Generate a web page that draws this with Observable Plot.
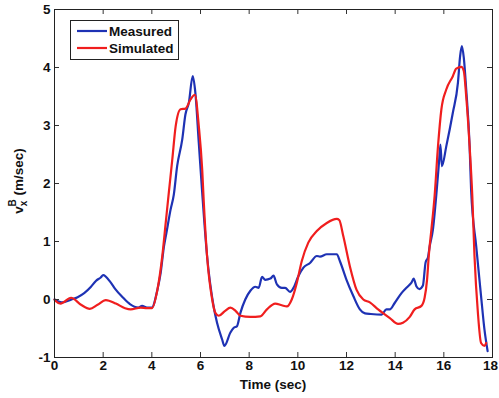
<!DOCTYPE html>
<html><head><meta charset="utf-8">
<script src="https://cdn.jsdelivr.net/npm/d3@7"></script>
<script src="https://cdn.jsdelivr.net/npm/@observablehq/plot@0.6"></script>
<style>body{margin:0;background:#fff}</style>
</head><body><div id="chart"></div>
<script>
const measuredTime = [0,0.3,0.7,0.95,1.22,1.5,1.7,1.9,2.0,2.3,2.5,2.8,3.1,3.45,3.6,3.8,4.0,4.23,4.36,4.5,4.6,4.77,4.9,5.04,5.25,5.38,5.52,5.68,5.79,5.93,6.07,6.27,6.54,6.68,6.89,6.98,7.23,7.36,7.5,7.64,7.84,8.05,8.25,8.39,8.53,8.66,8.87,9.0,9.14,9.34,9.48,9.68,9.82,10.02,10.23,10.5,10.78,10.91,11.19,11.6,11.73,12.0,12.28,12.55,12.76,13.0,13.44,13.64,13.78,13.98,14.26,14.53,14.67,14.76,14.87,15.0,15.14,15.25,15.35,15.42,15.55,15.69,15.8,15.86,15.92,16.1,16.37,16.58,16.67,16.74,16.82,16.92,17.06,17.12,17.33,17.53,17.67,17.8];
const measuredValue = [0,-0.05,0.0,0.04,0.11,0.22,0.32,0.38,0.42,0.3,0.18,0.04,-0.08,-0.14,-0.11,-0.14,-0.14,0.17,0.45,0.92,1.15,1.55,1.8,2.3,2.76,3.19,3.39,3.85,3.56,2.7,1.84,0.75,-0.12,-0.4,-0.69,-0.8,-0.57,-0.49,-0.46,-0.23,0,0.15,0.22,0.2,0.39,0.34,0.36,0.41,0.26,0.2,0.2,0.13,0.2,0.4,0.55,0.63,0.75,0.74,0.78,0.78,0.66,0.34,0.06,-0.17,-0.24,-0.25,-0.26,-0.17,-0.17,-0.06,0.11,0.23,0.29,0.36,0.23,0.18,0.24,0.64,0.73,0.92,1.2,1.8,2.36,2.67,2.3,2.64,3.22,3.74,4.2,4.37,4.17,3.62,2.64,1.9,0.92,0.06,-0.52,-0.89];
const simulatedTime = [0,0.06,0.25,0.68,1.09,1.45,1.77,2.11,2.52,2.9,3.13,3.54,3.8,4.0,4.23,4.43,4.57,4.7,4.84,4.98,5.18,5.38,5.59,5.77,5.93,6.07,6.13,6.27,6.48,6.61,6.75,7.0,7.23,7.45,7.64,8.05,8.46,8.73,9.07,9.34,9.55,9.75,9.96,10.16,10.43,10.78,11.19,11.6,11.7,11.87,12.14,12.41,12.69,12.96,13.3,13.78,14.12,14.32,14.6,14.8,15.08,15.21,15.31,15.39,15.49,15.62,15.76,15.9,16.1,16.37,16.51,16.72,16.82,16.92,17.06,17.17,17.26,17.4,17.53,17.67,17.74];
const simulatedValue = [0,-0.03,-0.07,0.03,-0.09,-0.16,-0.09,-0.01,-0.07,-0.15,-0.17,-0.14,-0.15,-0.15,0.17,0.75,1.32,1.85,2.41,2.99,3.28,3.29,3.45,3.53,2.99,2.24,1.72,0.75,0,-0.23,-0.28,-0.2,-0.14,-0.2,-0.28,-0.3,-0.29,-0.17,-0.07,-0.1,-0.12,0,0.29,0.66,0.98,1.18,1.32,1.39,1.37,1.09,0.57,0.17,0,-0.05,-0.17,-0.32,-0.42,-0.4,-0.3,-0.17,-0.11,0.03,0.34,0.8,1.21,1.78,2.64,3.28,3.62,3.85,3.98,4.01,3.94,3.5,2.64,1.78,0.75,-0.23,-0.75,-0.8,-0.75];
const xTicks = [0,2,4,6,8,10,12,14,16,18];
const yTicks = [-1,0,1,2,3,4,5];
const seriesNames = ["Measured","Simulated"];
const seriesColors = ["#1e32b4","#f01e1e"];

const measured = measuredTime.map((t,i)=>({t, v: measuredValue[i]}));
const simulated = simulatedTime.map((t,i)=>({t, v: simulatedValue[i]}));

const W=499, H=398, mL=54, mR=7, mT=9, mB=41;
const fw = W-mL-mR, fh = H-mT-mB;
const font = "'Liberation Sans', Arial, Helvetica, sans-serif";
const tickLen = 5;

const plot = Plot.plot({
  width: W, height: H,
  marginLeft: mL, marginRight: mR, marginTop: mT, marginBottom: mB,
  style: {fontFamily: font, fontSize: "13.5px", fontWeight: "bold", background: "white", color: "#111"},
  x: {domain: [0, 18]},
  y: {domain: [-1, 5]},
  marks: [
    Plot.line(measured, {x: "t", y: "v", stroke: seriesColors[0], strokeWidth: 2.2, curve: "monotone-x"}),
    Plot.line(simulated, {x: "t", y: "v", stroke: seriesColors[1], strokeWidth: 2.2, curve: "monotone-x"}),
    Plot.tickX(xTicks, {x: d => d, insetTop: fh - tickLen, stroke: "#333"}),
    Plot.tickX(xTicks, {x: d => d, insetBottom: fh - tickLen, stroke: "#333"}),
    Plot.tickY(yTicks, {y: d => d, insetRight: fw - tickLen, stroke: "#333"}),
    Plot.tickY(yTicks, {y: d => d, insetLeft: fw - tickLen, stroke: "#333"}),
    Plot.frame({stroke: "#222"}),
    Plot.axisX(xTicks.slice(0, -1), {tickSize: 0, tickPadding: 3, label: null, tickFormat: d => String(d)}),
    Plot.axisX(xTicks.slice(-1), {tickSize: 0, tickPadding: 3, label: null, dx: -2, tickFormat: d => String(d)}),
    Plot.axisY(yTicks, {tickSize: 0, tickPadding: 4, label: null, tickFormat: d => String(d)})
  ]
});

const svg = d3.select(plot);
// x label
svg.append("text").attr("x", mL + fw/2).attr("y", 389).attr("text-anchor", "middle")
  .attr("font-family", font).attr("font-weight", "bold").attr("font-size", 13.5).attr("fill", "#111")
  .text("Time (sec)");
// y label with sub/superscript
const yl = svg.append("text").attr("transform", "translate(23,181) rotate(-90)").attr("text-anchor", "middle")
  .attr("font-family", font).attr("font-weight", "bold").attr("font-size", 13.5).attr("fill", "#111");
yl.append("tspan").text("v");
yl.append("tspan").attr("font-size", 10).attr("dy", 4).text("x");
yl.append("tspan").attr("font-size", 10).attr("dx", -6).attr("dy", -11).text("B");
yl.append("tspan").attr("dy", 7).text(" (m/sec)");
// legend
const lg = svg.append("g").attr("font-family", font).attr("font-weight", "bold").attr("font-size", 13.5)
  .attr("text-anchor", "start");
lg.append("rect").attr("x", 70.5).attr("y", 20.5).attr("width", 108).attr("height", 39)
  .attr("fill", "white").attr("stroke", "#222");
seriesNames.forEach((name, i) => {
  const y = 31 + i*17;
  lg.append("line").attr("x1", 77).attr("x2", 107).attr("y1", y).attr("y2", y)
    .attr("stroke", seriesColors[i]).attr("stroke-width", 2.2);
  lg.append("text").attr("x", 109).attr("y", y + 5).attr("text-anchor", "start").attr("fill", "#111").text(name);
});

document.getElementById("chart").appendChild(plot);
</script>
</body></html>
